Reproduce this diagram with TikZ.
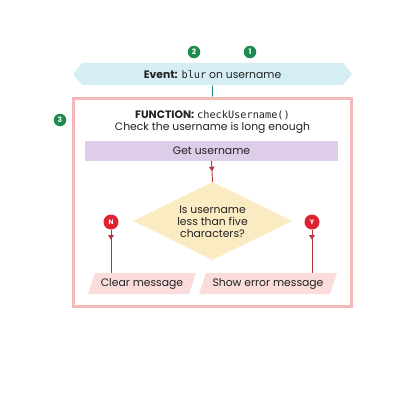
\documentclass[tikz,border=0pt]{standalone}
\usepackage{fontspec}
\setmainfont{Poppins}
\newfontfamily\codefont{DejaVu Sans Mono}[Scale=0.95]
\usetikzlibrary{shapes.geometric,arrows.meta,decorations.markings}
\definecolor{bannerc}{HTML}{D5EEF6}
\definecolor{pinkc}{HTML}{F2B9B8}
\definecolor{lavc}{HTML}{DDCDE9}
\definecolor{yelc}{HTML}{FBEBC3}
\definecolor{barc}{HTML}{F9DCDB}
\definecolor{redc}{HTML}{DE2230}
\definecolor{linec}{HTML}{B8323E}
\definecolor{greenc}{HTML}{1D8A4E}
\definecolor{tealc}{HTML}{2B8C8E}
\definecolor{txtc}{HTML}{222222}
\tikzset{
  lbl/.style={font=\fontsize{10.8}{12}\selectfont, text=txtc, inner sep=0pt, align=center},
  gcirc/.style={circle, fill=greenc, text=white, minimum size=12.5pt, inner sep=0pt, font=\fontsize{7.5}{7.5}\selectfont\bfseries},
  rcirc/.style={circle, fill=redc, text=white, minimum size=15pt, inner sep=0pt, font=\fontsize{6.5}{7}\selectfont\bfseries},
  flow/.style={draw=linec, line width=0.9pt, postaction=decorate,
    decoration={markings, mark=at position 10pt with {\arrow{Triangle[width=5.5pt,length=4.5pt]}}}},
}
\begin{document}
\begin{tikzpicture}[x=1pt,y=-1pt]
\useasboundingbox (0,0) rectangle (407,420);
% banner
\fill[bannerc] (73,74) -- (82,63) -- (343,63) -- (352,74) -- (343,85) -- (82,85) -- cycle;
\node[lbl, minimum width=270pt, minimum height=22pt] (event) at (212.5,74.5) {\textbf{Event:} {\codefont blur} on username};
% function box
\node[draw=pinkc, line width=3pt, fill=white, minimum width=277.5pt, minimum height=208.5pt, inner sep=0pt] (func) at (212.25,202.25) {};
\draw[tealc, line width=1pt] (event.south) -- (func.north);
\node[lbl, anchor=center] (ftitle) at (212.5,122.5) {\textbf{FUNCTION:} {\codefont checkUsername()}\\Check the username is long enough};
% get username
\node[lbl, fill=lavc, minimum width=253pt, minimum height=20pt] (get) at (211.5,151) {Get username};
% decision
\node[diamond, fill=yelc, minimum width=159pt, minimum height=78pt, inner sep=0pt] (dec) at (212.5,221) {};
\node[lbl] (dectxt) at (212.5,222) {Is username\\less than five\\characters?};
\draw[flow] (get.south) -- (dec.north);
% N / Y
\node[rcirc] (n) at (111,222) {N};
\node[rcirc] (y) at (312,222) {Y};
% bars
\fill[barc] (88,294) -- (95,273) -- (196,273) -- (189,294) -- cycle;
\fill[barc] (199,294) -- (206,273) -- (337,273) -- (330,294) -- cycle;
\node[lbl, minimum height=21pt] (clear) at (142,283.5) {Clear message};
\node[lbl, minimum height=21pt] (show) at (268,283.5) {Show error message};
\draw[flow] (n.south) -- (n.south |- clear.north);
\draw[flow] (y.south) -- (y.south |- show.north);
% numbers
\node[gcirc] (c2) at (194,52) {2};
\node[gcirc] (c1) at (250,52) {1};
\node[gcirc] (c3) at (60,120) {3};
\end{tikzpicture}
\end{document}
